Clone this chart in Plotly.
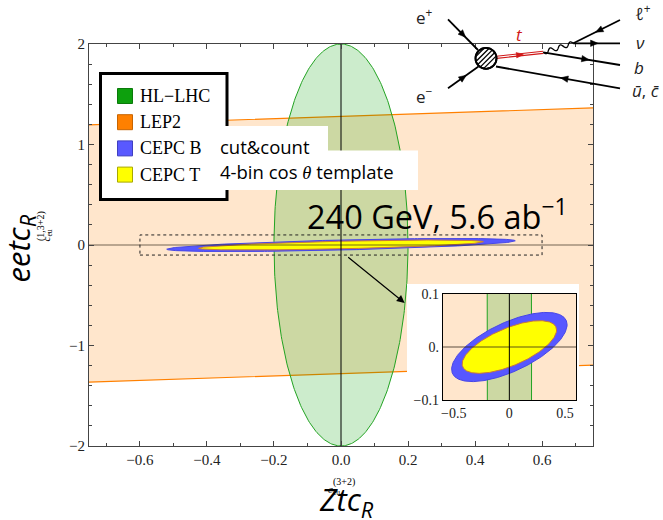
import numpy as np
import plotly.graph_objects as go

# ---------------- data ----------------
ELLIPSE_NAMES = ["HL−LHC", "CEPC B", "CEPC T"]
ELLIPSE_X_HALF = [0.20, 0.52, 0.425]      # half extent along Ztc
ELLIPSE_Y_AT_XMAX = [0.0, 0.042, 0.032]   # eetc value at the rightmost point
ELLIPSE_Y_AT_X0 = [2.0, 0.050, 0.038]     # eetc half-height at Ztc = 0
LEP2_X = [-0.8, 0.8]
LEP2_UPPER = [1.19, 1.37]
LEP2_LOWER = [-1.37, -1.19]
ZOOM_BOX_X = [-0.6, 0.6]
ZOOM_BOX_Y = [-0.1, 0.1]
LEGEND_NAMES = ["HL−LHC", "LEP2", "CEPC B", "CEPC T"]
X_TICKS = [-0.6, -0.4, -0.2, 0.0, 0.2, 0.4, 0.6]
X_TICKTEXT = ["−0.6", "−0.4", "−0.2", "0.0", "0.2", "0.4", "0.6"]
Y_TICKS = [-2, -1, 0, 1, 2]
Y_TICKTEXT = ["−2", "−1", "0", "1", "2"]
INSET_X_TICKS = [-0.5, 0, 0.5]
INSET_X_TICKTEXT = ["−0.5", "0", "0.5"]
INSET_Y_TICKS = [-0.1, 0, 0.1]
INSET_Y_TICKTEXT = ["−0.1", "0.", "0.1"]

# ---------------- styles ----------------
W, H = 663, 520
ML, MR, MT, MB = 89, 70, 44, 74
PW, PH = W - ML - MR, H - MT - MB
SERIF = "Liberation Serif"
SANS = "Open Sans"

FILL = {"HL−LHC": "rgba(0,160,0,0.2)", "CEPC B": "#5757FF", "CEPC T": "#FFFF00"}
LINE = {"HL−LHC": "#22A322", "CEPC B": "#4646E6", "CEPC T": "#C8783C"}
LEG_COL = ["#0DA00D", "#FF8000", "#5959FF", "#FFFF00"]
LEG_EDGE = ["#0A7A0A", "#C86400", "#4040C0", "#A8A800"]


def P(px, py):
    return (px - ML) / PW, (H - MB - py) / PH


def ellipse(i):
    t = np.linspace(0, 2 * np.pi, 361)
    a, c, d = ELLIPSE_X_HALF[i], ELLIPSE_Y_AT_XMAX[i], ELLIPSE_Y_AT_X0[i]
    return a * np.cos(t), c * np.cos(t) + d * np.sin(t)


fig = go.Figure()


def add_region_traces(xa, ya):
    bx = LEP2_X + LEP2_X[::-1] + [LEP2_X[0]]
    by = LEP2_UPPER + LEP2_LOWER[::-1] + [LEP2_UPPER[0]]
    fig.add_trace(go.Scatter(x=bx, y=by, mode="lines", fill="toself", name="LEP2",
                             fillcolor="rgba(255,128,0,0.2)",
                             line=dict(color="#FF8000", width=1.2),
                             xaxis=xa, yaxis=ya, showlegend=False, hoverinfo="skip"))
    for i, n in enumerate(ELLIPSE_NAMES):
        ex, ey = ellipse(i)
        fig.add_trace(go.Scatter(x=ex, y=ey, mode="lines", fill="toself", name=n,
                                 fillcolor=FILL[n], line=dict(color=LINE[n], width=1),
                                 xaxis=xa, yaxis=ya, showlegend=False, hoverinfo="skip"))


# main panel
add_region_traces("x", "y")
fig.add_trace(go.Scatter(x=[-0.8, 0.8], y=[0, 0], mode="lines",
                         line=dict(color="rgba(40,30,20,0.65)", width=1.2),
                         showlegend=False, hoverinfo="skip"))
fig.add_trace(go.Scatter(x=[0, 0], y=[-2, 2], mode="lines",
                         line=dict(color="black", width=1),
                         showlegend=False, hoverinfo="skip"))
fig.add_trace(go.Scatter(x=[ZOOM_BOX_X[0], ZOOM_BOX_X[1], ZOOM_BOX_X[1], ZOOM_BOX_X[0], ZOOM_BOX_X[0]],
                         y=[ZOOM_BOX_Y[0], ZOOM_BOX_Y[0], ZOOM_BOX_Y[1], ZOOM_BOX_Y[1], ZOOM_BOX_Y[0]],
                         mode="lines", line=dict(color="#222", width=1, dash="dot"),
                         showlegend=False, hoverinfo="skip"))

# white backing panel for the inset (subplot 2)
fig.add_trace(go.Scatter(x=[None], y=[None], xaxis="x2", yaxis="y2",
                         showlegend=False, hoverinfo="skip"))

# inset panel (subplot 3)
add_region_traces("x3", "y3")
fig.add_trace(go.Scatter(x=[-1, 1], y=[0, 0], mode="lines", xaxis="x3", yaxis="y3",
                         line=dict(color="rgba(40,30,20,0.75)", width=1.2),
                         showlegend=False, hoverinfo="skip"))
fig.add_trace(go.Scatter(x=[0, 0], y=[-1, 1], mode="lines", xaxis="x3", yaxis="y3",
                         line=dict(color="black", width=1),
                         showlegend=False, hoverinfo="skip"))

axis_common = dict(showgrid=False, zeroline=False, showline=True, linecolor="#444",
                   linewidth=1, mirror="ticks", ticks="inside", ticklen=5,
                   tickcolor="#444", tickfont=dict(family=SERIF, size=15, color="#222"))

ix0, iy0 = P(442.7, 400)
ix1, iy1 = P(576, 294)
wx0, wy0 = P(407, 432)
wx1, wy1 = P(579, 284)

fig.update_layout(
    width=W, height=H, margin=dict(l=ML, r=MR, t=MT, b=MB),
    paper_bgcolor="white", plot_bgcolor="white", showlegend=False,
    xaxis=dict(range=[-0.752, 0.752], tickvals=X_TICKS, ticktext=X_TICKTEXT,
               minor=dict(dtick=0.1, tick0=0, ticks="inside", ticklen=3, tickcolor="#444"),
               **axis_common),
    yaxis=dict(range=[-2, 2], tickvals=Y_TICKS, ticktext=Y_TICKTEXT,
               minor=dict(dtick=0.2, tick0=0, ticks="inside", ticklen=3, tickcolor="#444"),
               **axis_common),
    xaxis2=dict(domain=[wx0, wx1], anchor="y2", visible=False, range=[0, 1]),
    yaxis2=dict(domain=[wy0, wy1], anchor="x2", visible=False, range=[0, 1]),
    xaxis3=dict(domain=[ix0, ix1], anchor="y3", range=[-0.6, 0.6],
                tickvals=INSET_X_TICKS, ticktext=INSET_X_TICKTEXT,
                showgrid=False, zeroline=False, showline=True, mirror=True,
                linecolor="black", linewidth=1, ticks="",
                tickfont=dict(family=SERIF, size=14, color="#222")),
    yaxis3=dict(domain=[iy0, iy1], anchor="x3", range=[-0.1, 0.1],
                tickvals=INSET_Y_TICKS, ticktext=INSET_Y_TICKTEXT,
                showgrid=False, zeroline=False, showline=True, mirror=True,
                linecolor="black", linewidth=1, ticks="",
                tickfont=dict(family=SERIF, size=14, color="#222")),
)

shapes = []
annotations = []


def ann(px, py, text, size, family=SANS, color="black", xanchor="center",
        yanchor="middle", angle=0):
    x, y = P(px, py)
    annotations.append(dict(x=x, y=y, xref="paper", yref="paper", text=text,
                            showarrow=False, xanchor=xanchor, yanchor=yanchor,
                            textangle=angle, font=dict(family=family, size=size, color=color)))


def rect(px0, py0, px1, py1, fill="white", line=None):
    x0, y0 = P(px0, py1)
    x1, y1 = P(px1, py0)
    shapes.append(dict(type="rect", xref="paper", yref="paper", x0=x0, y0=y0, x1=x1, y1=y1,
                       fillcolor=fill, line=line or dict(width=0), layer="above"))


def seg(a, b, color="black", width=1.8):
    x0, y0 = P(*a)
    x1, y1 = P(*b)
    shapes.append(dict(type="line", xref="paper", yref="paper", x0=x0, y0=y0, x1=x1, y1=y1,
                       line=dict(color=color, width=width), layer="above"))


def head(a, b, frac=0.5, color="black", L=7.5, Wd=3.2):
    # arrow head pointing from a to b placed at fraction frac
    ax, ay = a
    bx, by = b
    dx, dy = bx - ax, by - ay
    n = np.hypot(dx, dy)
    ux, uy = dx / n, dy / n
    cx, cy = ax + dx * frac, ay + dy * frac
    tip = (cx + ux * L / 2, cy + uy * L / 2)
    bl = (cx - ux * L / 2 - uy * Wd, cy - uy * L / 2 + ux * Wd)
    br = (cx - ux * L / 2 + uy * Wd, cy - uy * L / 2 - ux * Wd)
    pts = [P(*tip), P(*bl), P(*br)]
    path = "M{},{} L{},{} L{},{} Z".format(pts[0][0], pts[0][1], pts[1][0], pts[1][1],
                                          pts[2][0], pts[2][1])
    shapes.append(dict(type="path", xref="paper", yref="paper", path=path,
                       fillcolor=color, line=dict(color=color, width=0.5), layer="above"))


# ---- legend box (drawn by hand to match the framed legend) ----
rect(100.5, 73.5, 227, 199.5, line=dict(color="black", width=3))
for k, (n, c, e) in enumerate(zip(LEGEND_NAMES, LEG_COL, LEG_EDGE)):
    yc = 96 + k * 26.2
    rect(117.5, yc - 7.5, 132.5, yc + 7.5, fill=c, line=dict(color=e, width=1))
    ann(137.5, yc, n, 18, family=SERIF, xanchor="left")

# text boxes (cover the legend frame like in the original)
rect(215, 126, 328, 151)
rect(215, 150.5, 418, 190)
ann(218, 146, "cut&amp;count", 18.5, xanchor="left")
ann(218, 171, "4-bin cos <span style=\"font-family:'Liberation Serif'\"><i>θ</i></span> template",
    18.5, xanchor="left")
ann(305, 215, "240 GeV, 5.6 ab<sup>−1</sup>", 32.5, xanchor="left")

# axis labels
ann(346, 501, "<i>Ztc</i><sub><i>R</i></sub>", 31)
ann(344, 482, "(3+2)", 10, family=SERIF)
ann(334, 490, "<i>c</i><sub>eu</sub>", 11, family=SERIF)
ann(19.5, 249, "<i>eetc</i><sub><i>R</i></sub>", 31, angle=-90)
ann(41, 226, "(1,3+2)", 10, family=SERIF, angle=-90)
ann(46.5, 236, "<i>c</i><sub>eu</sub>", 11, family=SERIF, angle=-90)

# arrow from zoom box to inset
annotations.append(dict(x=0.19, y=-0.577, ax=0.017, ay=-0.11, xref="x", yref="y",
                        axref="x", ayref="y", text="", showarrow=True, arrowhead=2,
                        arrowsize=1.3, arrowwidth=1.2, arrowcolor="black"))

# ---- Feynman diagram (decoration) ----
blob = (486, 58.3)
r = 10.5
e_plus = ((448, 19.3), (478, 50))
e_minus = ((448, 88.3), (478.5, 66.5))
seg(*e_plus)
seg(*e_minus)
head(*e_plus, frac=0.5)
head(*e_minus, frac=0.5)
# top quark double line
tA, tB = (496.5, 57.3), (543.3, 52.3)
dxt, dyt = tB[0] - tA[0], tB[1] - tA[1]
nt = np.hypot(dxt, dyt)
nx, ny = -dyt / nt, dxt / nt
for s in (-1.1, 1.1):
    seg((tA[0] + nx * s, tA[1] + ny * s), (tB[0] + nx * s, tB[1] + ny * s),
        color="#D01818", width=1.1)
head(tA, tB, frac=0.5, color="#D01818", L=7, Wd=2.8)
# outgoing lines
vW = (573.3, 43.3)
vt = tB
seg(vW, (620, 20))
head((620, 20), vW, frac=0.45)
seg(vW, (620, 43.3))
head(vW, (620, 43.3), frac=0.45)
seg(vt, (620, 65))
head(vt, (620, 65), frac=0.55)
seg((496, 66.5), (620, 88.3))
head((620, 88.3), (496, 66.5), frac=0.45)
# W boson wiggle
s = np.linspace(0, 1, 60)
wx = vt[0] + s * (vW[0] - vt[0])
wy = vt[1] + s * (vW[1] - vt[1])
dl = np.hypot(vW[0] - vt[0], vW[1] - vt[1])
pnx, pny = -(vW[1] - vt[1]) / dl, (vW[0] - vt[0]) / dl
amp = 2.2 * np.sin(2 * np.pi * 3 * s)
pts = [P(x + pnx * a, y + pny * a) for x, y, a in zip(wx, wy, amp)]
wpath = "M" + " L".join("{:.5f},{:.5f}".format(p[0], p[1]) for p in pts)
shapes.append(dict(type="path", xref="paper", yref="paper", path=wpath,
                   line=dict(color="black", width=1.3), layer="above"))
# hatched blob
cx0, cy0 = P(blob[0] - r, blob[1] + r)
cx1, cy1 = P(blob[0] + r, blob[1] - r)
shapes.append(dict(type="circle", xref="paper", yref="paper", x0=cx0, y0=cy0, x1=cx1, y1=cy1,
                   fillcolor="white", line=dict(color="black", width=1.8), layer="above"))
for off in np.arange(-8.4, 8.5, 3.5):
    half = np.sqrt(max(r * r - off * off, 0)) - 0.6
    ux, uy = 1 / np.sqrt(2), -1 / np.sqrt(2)
    px_, py_ = 1 / np.sqrt(2), 1 / np.sqrt(2)
    c0 = (blob[0] + px_ * off, blob[1] + py_ * off)
    seg((c0[0] - ux * half, c0[1] - uy * half), (c0[0] + ux * half, c0[1] + uy * half),
        width=1.3)
shapes.append(dict(type="circle", xref="paper", yref="paper", x0=cx0, y0=cy0, x1=cx1, y1=cy1,
                   line=dict(color="black", width=1.8), layer="above"))

ann(424, 17, "e<sup>+</sup>", 17, color="#222")
ann(424, 96, "e<sup>−</sup>", 17, color="#222")
ann(519, 34, "<i>t</i>", 17, color="#D01818")
ann(643, 13, "<i>ℓ</i><sup>+</sup>", 17, color="#222")
ann(640, 43, "<i>ν</i>", 17, color="#222")
ann(639, 68, "<i>b</i>", 17, color="#222")
ann(645, 91, "<i>ū</i>, <i>c̄</i>", 17, color="#222")

fig.update_layout(shapes=shapes, annotations=annotations)
fig.write_html("out.html")
